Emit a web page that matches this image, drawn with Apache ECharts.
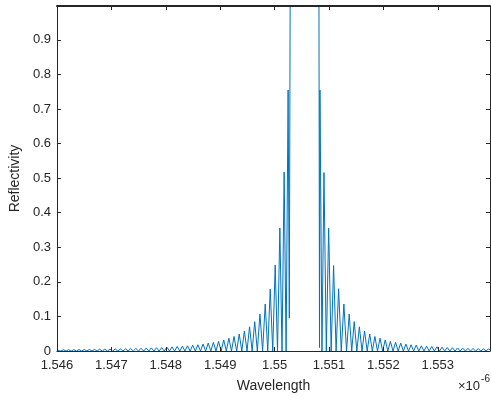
<!DOCTYPE html>
<html>
<head>
<meta charset="utf-8">
<script src="https://cdn.jsdelivr.net/npm/echarts@6/dist/echarts.min.js"></script>
<style>
  html, body { margin: 0; padding: 0; background: #fff; }
  #chart { width: 491px; height: 398px; }
</style>
</head>
<body>
<div id="chart"></div>
<script>
// wavelength values are in units of 1e-6 m (axis shows x10^-6)
const peakWavelength = [
  1.546025, 1.546120, 1.546215, 1.546310, 1.546405, 1.546500, 1.546595, 1.546690,
  1.546785, 1.546880, 1.546975, 1.547070, 1.547165, 1.547260, 1.547355, 1.547450,
  1.547545, 1.547640, 1.547735, 1.547830, 1.547925, 1.548020, 1.548115, 1.548210,
  1.548305, 1.548400, 1.548495, 1.548590, 1.548685, 1.548780, 1.548875, 1.548970,
  1.549065, 1.549160, 1.549255, 1.549350, 1.549445, 1.549540, 1.549635, 1.549731,
  1.549828, 1.549920, 1.550011, 1.550097, 1.550176, 1.550249,
  1.550834, 1.550908, 1.550994, 1.551085, 1.551177, 1.551274, 1.551372, 1.551464,
  1.551559, 1.551654, 1.551749, 1.551844, 1.551939, 1.552034, 1.552129, 1.552224,
  1.552319, 1.552414, 1.552509, 1.552604, 1.552699, 1.552794, 1.552889, 1.552984,
  1.553079, 1.553174, 1.553269, 1.553364, 1.553459, 1.553554, 1.553649, 1.553744,
  1.553839, 1.553934
];
const peakReflectivity = [
  0.0034, 0.0036, 0.0037, 0.0039, 0.0041, 0.0043, 0.0045, 0.0047,
  0.0050, 0.0052, 0.0055, 0.0058, 0.0061, 0.0065, 0.0069, 0.0073,
  0.0078, 0.0083, 0.0089, 0.0095, 0.010, 0.011, 0.012, 0.013,
  0.014, 0.015, 0.017, 0.018, 0.020, 0.023, 0.025, 0.028,
  0.032, 0.037, 0.042, 0.049, 0.058, 0.070, 0.085, 0.107,
  0.136, 0.179, 0.249, 0.356, 0.518, 0.755,
  0.755, 0.516, 0.355, 0.247, 0.180, 0.136, 0.107, 0.085,
  0.070, 0.058, 0.049, 0.042, 0.037, 0.032, 0.028, 0.025,
  0.023, 0.020, 0.018, 0.017, 0.015, 0.014, 0.013, 0.012,
  0.011, 0.010, 0.0095, 0.0089, 0.0083, 0.0078, 0.0073, 0.0069,
  0.0065, 0.0061
];
const dipWavelength = [
  1.546000,
  1.546073, 1.546168, 1.546263, 1.546358, 1.546453, 1.546548, 1.546643, 1.546738,
  1.546833, 1.546928, 1.547023, 1.547118, 1.547213, 1.547308, 1.547403, 1.547498,
  1.547593, 1.547688, 1.547783, 1.547878, 1.547973, 1.548068, 1.548163, 1.548258,
  1.548353, 1.548448, 1.548543, 1.548638, 1.548733, 1.548828, 1.548923, 1.549018,
  1.549113, 1.549208, 1.549303, 1.549398, 1.549493, 1.549588, 1.549683, 1.549780,
  1.549874, 1.549966, 1.550054, 1.550137, 1.550212,
  1.550271, 1.550826,
  1.550871, 1.550951, 1.551040, 1.551131, 1.551226, 1.551323, 1.551418, 1.551512,
  1.551607, 1.551702, 1.551797, 1.551892, 1.551987, 1.552082, 1.552177, 1.552272,
  1.552367, 1.552462, 1.552557, 1.552652, 1.552747, 1.552842, 1.552937, 1.553032,
  1.553127, 1.553222, 1.553317, 1.553412, 1.553507, 1.553602, 1.553697, 1.553792,
  1.553887,
  1.553960
];
const dipReflectivity = [
  0.0015,
  0, 0, 0, 0, 0, 0, 0, 0, 0, 0, 0, 0, 0, 0, 0,
  0, 0, 0, 0, 0, 0, 0, 0, 0, 0, 0, 0, 0, 0, 0,
  0, 0, 0, 0, 0, 0, 0, 0, 0, 0, 0, 0, 0, 0, 0,
  0.095, 0.010,
  0, 0, 0, 0, 0, 0, 0, 0, 0, 0, 0, 0, 0, 0, 0,
  0, 0, 0, 0, 0, 0, 0, 0, 0, 0, 0, 0, 0, 0, 0,
  0, 0, 0,
  0.003
];
// stop band, reflectivity saturates at 1 (runs along the top of the axes)
const bandWavelength = [1.550286, 1.550540, 1.550816];
const bandReflectivity = [1.0, 1.0, 1.0];

const xTicks = { min: 1.546, max: 1.55396, step: 0.001 };
const yTicks = { min: 0, max: 0.998, step: 0.1 };

const points = [];
peakWavelength.forEach((w, i) => points.push([w, peakReflectivity[i]]));
dipWavelength.forEach((w, i) => points.push([w, dipReflectivity[i]]));
bandWavelength.forEach((w, i) => points.push([w, bandReflectivity[i]]));
points.sort((a, b) => a[0] - b[0]);

const fontFamily = "'Liberation Sans', Arial, sans-serif";
const textColor = "#262626";
const boxColor = "#262626";

function fmt(digits) {
  return (v) => String(parseFloat(v.toFixed(digits)));
}

const chart = echarts.init(document.getElementById("chart"), null, { renderer: "canvas" });

const xBase = {
  type: "value",
  min: xTicks.min,
  max: xTicks.max,
  interval: xTicks.step,
  zlevel: 1,
  axisLine: { show: true, onZero: false, lineStyle: { color: boxColor, width: 1 } },
  axisTick: { show: true, inside: true, length: 4, lineStyle: { color: boxColor } },
  splitLine: { show: false },
};
const yBase = {
  type: "value",
  min: yTicks.min,
  max: yTicks.max,
  interval: yTicks.step,
  zlevel: 1,
  axisLine: { show: true, onZero: false, lineStyle: { color: boxColor, width: 1 } },
  axisTick: { show: true, inside: true, length: 4, lineStyle: { color: boxColor } },
  splitLine: { show: false },
};

chart.setOption({
  animation: false,
  backgroundColor: "#ffffff",
  grid: { left: 55, right: 1, top: 6, bottom: 47 },
  xAxis: [
    Object.assign({}, xBase, {
      position: "bottom",
      name: "Wavelength",
      nameLocation: "middle",
      nameGap: 28,
      nameTextStyle: { color: textColor, fontSize: 14, fontFamily },
      axisLabel: {
        color: textColor, fontSize: 13, fontFamily, margin: 8,
        showMaxLabel: false, formatter: fmt(3),
      },
    }),
    Object.assign({}, xBase, {
      position: "top",
      axisLine: { show: true, onZero: false, lineStyle: { color: boxColor, width: 2 } },
      axisLabel: { show: false },
    }),
  ],
  yAxis: [
    Object.assign({}, yBase, {
      position: "left",
      name: "Reflectivity",
      nameLocation: "middle",
      nameGap: 28,
      nameRotate: 90,
      nameTextStyle: { color: textColor, fontSize: 14, fontFamily },
      axisLabel: {
        color: textColor, fontSize: 13, fontFamily, margin: 6,
        showMaxLabel: false, formatter: fmt(1),
      },
    }),
    Object.assign({}, yBase, { position: "right", axisLabel: { show: false } }),
  ],
  graphic: [
    {
      type: "text", right: 11, top: 380,
      style: { text: "\u00d710", fill: textColor, fontSize: 13, fontFamily },
    },
    {
      type: "text", right: 1, top: 374,
      style: { text: "-6", fill: textColor, fontSize: 10, fontFamily },
    },
  ],
  series: [
    {
      type: "line",
      data: points,
      showSymbol: false,
      xAxisIndex: 0,
      yAxisIndex: 0,
      lineStyle: { color: "#0072BD", width: 1 },
      silent: true,
    },
  ],
});
</script>
</body>
</html>
